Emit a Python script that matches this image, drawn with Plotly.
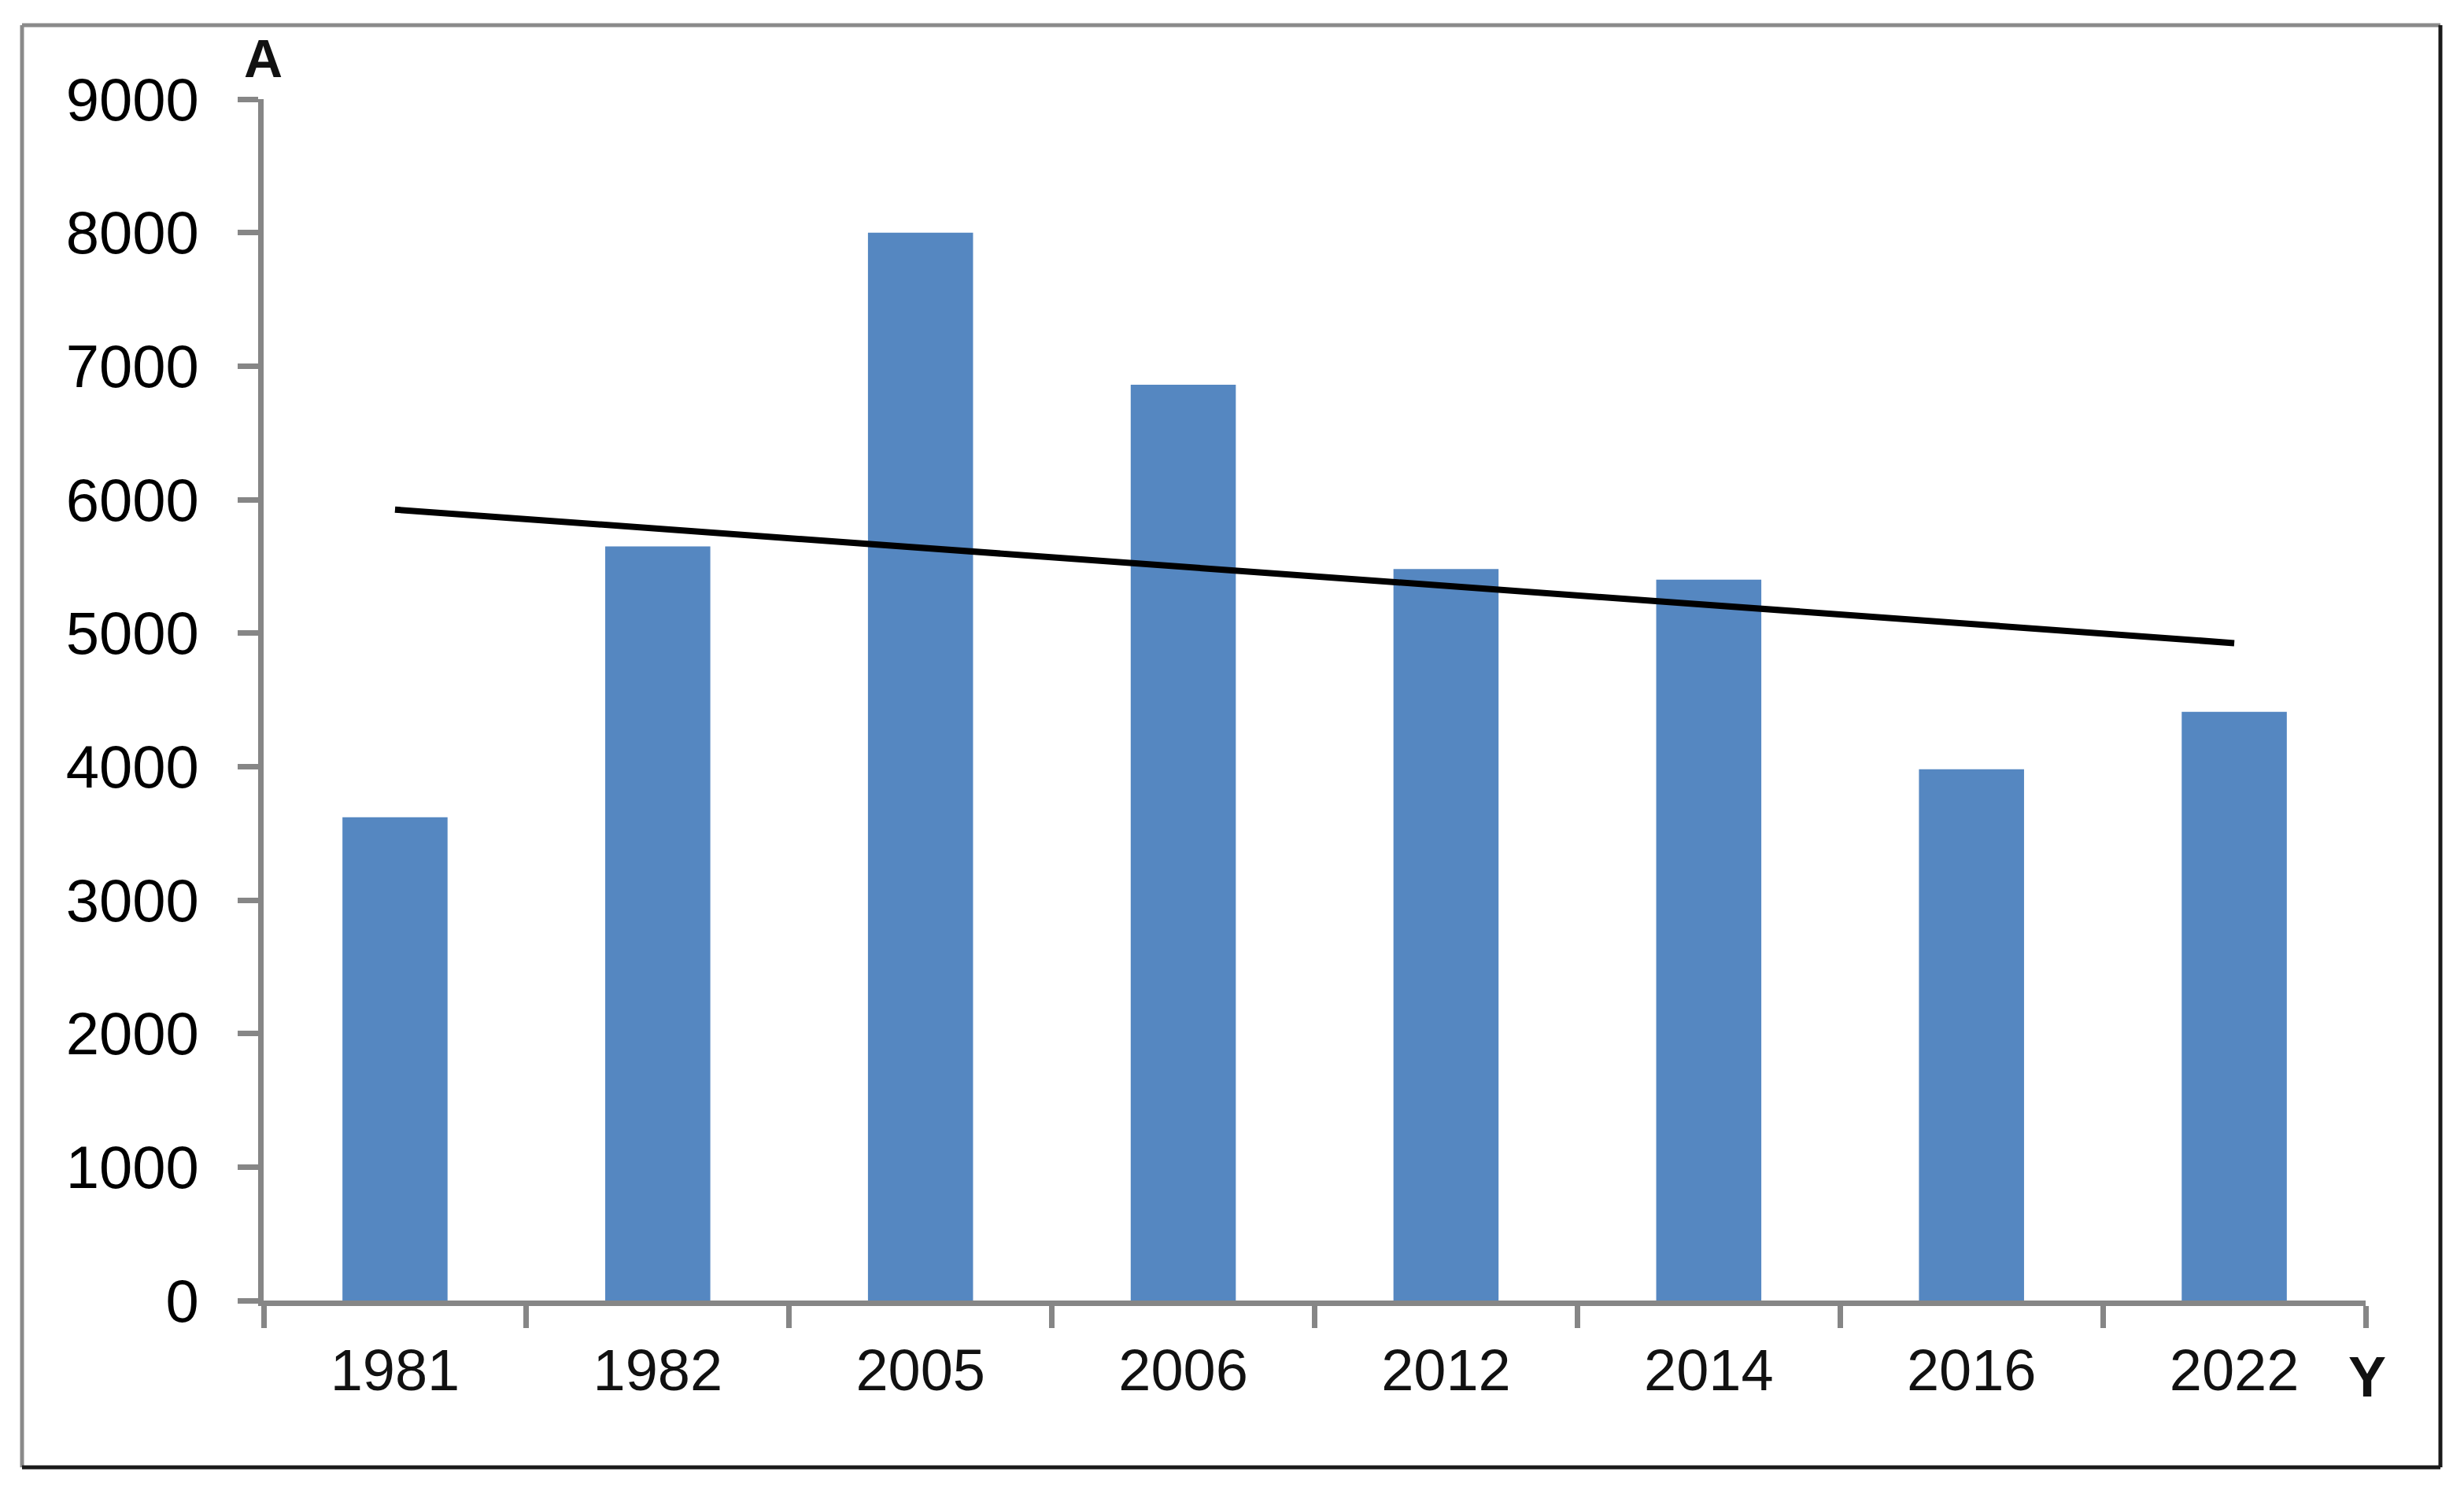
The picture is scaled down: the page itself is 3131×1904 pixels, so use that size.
import numpy as np
import plotly.graph_objects as go

years = ["1981", "1982", "2005", "2006", "2012", "2014", "2016", "2022"]
values = [3620, 5650, 8000, 6860, 5480, 5400, 3980, 4410]
y_ticks = [0, 1000, 2000, 3000, 4000, 5000, 6000, 7000, 8000, 9000]
x_title = "Y"
y_title = "A"

# linear trend line (least squares) through the bar values
idx = np.arange(1, len(values) + 1)
slope, intercept = np.polyfit(idx, values, 1)
trend = list(slope * idx + intercept)

W, H = 3131, 1904
OFF = 8  # page body margin offset
# desired window positions of the plot area
wl, wr, wt, wb = 335, 3006, 126, 1653
L = wl - OFF
T = wt - OFF
R = W - (wr - OFF)
B = H - (wb - OFF)
pw, ph = W - L - R, H - T - B

def px(x):
    return (x - OFF - L) / pw

def py(y):
    return (H - B - (y - OFF)) / ph

fig = go.Figure()
fig.add_trace(go.Bar(x=years, y=values, marker=dict(color="#5587C1", line=dict(width=0)),
                     width=0.4, showlegend=False))
fig.add_trace(go.Scatter(x=years, y=trend, mode="lines", line=dict(color="#000000", width=8),
                         showlegend=False))

axis_col = "#868686"
fig.update_layout(
    width=W, height=H,
    margin=dict(l=L, r=R, t=T, b=B),
    paper_bgcolor="white", plot_bgcolor="white",
    xaxis=dict(type="category", range=[-0.5, 7.5], showgrid=False, zeroline=False,
               showline=True, linecolor=axis_col, linewidth=7,
               ticks="outside", tickson="boundaries", ticklen=28, tickwidth=7, tickcolor=axis_col,
               tickfont=dict(family="Liberation Sans", size=74, color="#111111"),
               ticklabelstandoff=18),
    yaxis=dict(range=[0, 9000], tickvals=y_ticks, ticktext=[str(v) for v in y_ticks],
               showgrid=False, zeroline=False,
               showline=True, linecolor=axis_col, linewidth=7,
               ticks="outside", ticklen=26, tickwidth=7, tickcolor=axis_col,
               tickfont=dict(family="Liberation Sans", size=76, color="#000000"),
               ticklabelstandoff=34),
    bargap=0.6,
)

fig.add_annotation(text="<b>" + y_title + "</b>", xref="paper", yref="paper",
                   x=px(334), y=py(74), xanchor="center", yanchor="middle", showarrow=False,
                   font=dict(family="Liberation Sans", size=68, color="#111111"))
fig.add_annotation(text="<b>" + x_title + "</b>", xref="paper", yref="paper",
                   x=px(3008), y=py(1750), xanchor="center", yanchor="middle", showarrow=False,
                   font=dict(family="Liberation Sans", size=72, color="#111111"))

# outer frame
fx0, fx1, fy0, fy1 = px(28), px(3101), py(1865), py(32)
frame = [
    (fx0, fy1, fx1, fy1, "#8a8a8a"),
    (fx0, fy0, fx0, fy1, "#8a8a8a"),
    (fx0, fy0, fx1, fy0, "#1a1a1a"),
    (fx1, fy0, fx1, fy1, "#1a1a1a"),
]
for x0, y0, x1, y1, c in frame:
    fig.add_shape(type="line", xref="paper", yref="paper", x0=x0, y0=y0, x1=x1, y1=y1,
                  line=dict(color=c, width=5), layer="above")

fig.write_html("out.html")
